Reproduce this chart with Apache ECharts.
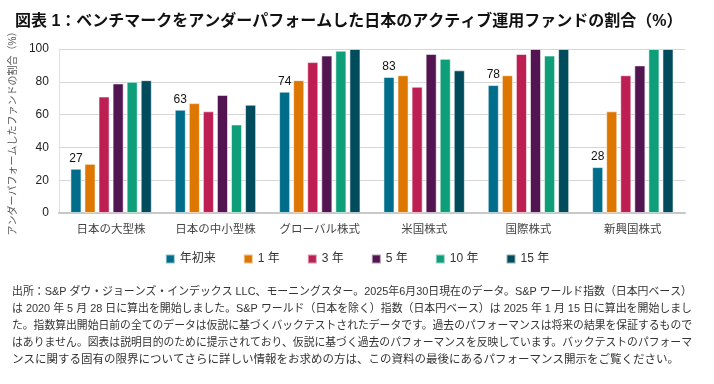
<!DOCTYPE html>
<html>
<head>
<meta charset="utf-8">
<script src="https://cdn.jsdelivr.net/npm/echarts@6/dist/echarts.min.js"></script>
<style>
html,body{margin:0;padding:0;background:#fff;}
#c{width:714px;height:384px;}
</style>
</head>
<body>
<div id="c"></div>
<script>
const categories = ['日本の大型株','日本の中小型株','グローバル株式','米国株式','国際株式','新興国株式'];
const seriesNames = ['年初来','1 年','3 年','5 年','10 年','15 年'];
const ytd   = [27, 63, 74, 83, 78, 28];
const y1    = [30, 67, 81, 84, 84, 62];
const y3    = [71, 62, 92, 77, 97, 84];
const y5    = [79, 72, 96, 97, 100, 90];
const y10   = [80, 54, 99, 94, 96, 100];
const y15   = [81, 66, 100, 87, 100, 100];
const yTicks = [0, 20, 40, 60, 80, 100];
const titleText = '図表 1：ベンチマークをアンダーパフォームした日本のアクティブ運用ファンドの割合（%）';
const yAxisName = 'アンダーパフォームしたファンドの割合（%）';
const noteLines = [
 '出所：S&P ダウ・ジョーンズ・インデックス LLC、モーニングスター。2025年6月30日現在のデータ。S&P ワールド指数（日本円ベース）',
 'は 2020 年 5 月 28 日に算出を開始しました。S&P ワールド（日本を除く）指数（日本円ベース）は 2025 年 1 月 15 日に算出を開始しまし',
 'た。指数算出開始日前の全てのデータは仮説に基づくバックテストされたデータです。過去のパフォーマンスは将来の結果を保証するもので',
 'はありません。図表は説明目的のために提示されており、仮説に基づく過去のパフォーマンスを反映しています。バックテストのパフォーマ',
 'ンスに関する固有の限界についてさらに詳しい情報をお求めの方は、この資料の最後にあるパフォーマンス開示をご覧ください。'
];

const colors = ['#006E8A','#DD7700','#BD1F52','#521552','#0E9F7A','#004B5C'];
const FONT = '"Liberation Sans", "Noto Sans CJK JP", sans-serif';
const allData = [ytd, y1, y3, y5, y10, y15];

const chart = echarts.init(document.getElementById('c'));

const cv = document.createElement('canvas').getContext('2d');
const noteSize = 11.5;
cv.font = noteSize + 'px ' + FONT;
const targetW = 680;

const graphics = [];
noteLines.forEach((t, i) => {
  const w = cv.measureText(t).width;
  const justify = i < noteLines.length - 1;
  const sx = justify ? targetW / w : 1;
  graphics.push({
    type: 'text', x: 12, y: 292 + i * 17, scaleX: sx,
    style: { text: t, font: noteSize + 'px ' + FONT, fill: '#333', verticalAlign: 'middle' }
  });
});

const series = seriesNames.map((n, i) => ({
  name: n, type: 'bar', data: allData[i],
  barGap: '27%', barCategoryGap: '22%',
  itemStyle: { color: colors[i], borderColor: 'rgba(255,255,255,0.55)', borderWidth: 1 },
  label: i === 0 ? { show: true, position: 'top', distance: 4, color: '#111', fontSize: 12, fontFamily: FONT } : { show: false }
}));

chart.setOption({
  animation: false,
  textStyle: { fontFamily: FONT },
  title: {
    text: titleText, left: 10, top: 9,
    textStyle: { fontSize: 16, fontWeight: 'bold', color: '#111', fontFamily: FONT }
  },
  grid: { left: 53, right: 29, top: 49, bottom: 171, containLabel: false },
  legend: {
    data: seriesNames, bottom: 114, left: 'center', itemWidth: 9, itemHeight: 9, itemGap: 27,
    icon: 'rect', textStyle: { fontSize: 12, color: '#333', fontFamily: FONT }
  },
  xAxis: {
    type: 'category', data: categories,
    axisLine: { lineStyle: { color: '#c8c8c8', width: 2 } },
    axisTick: { show: false },
    axisLabel: { fontSize: 11.5, color: '#444', margin: 11, interval: 0 }
  },
  yAxis: {
    type: 'value', min: 0, max: 100, interval: 20,
    name: yAxisName, nameLocation: 'middle', nameRotate: 90, nameGap: 36,
    nameTextStyle: { fontSize: 10, color: '#555', fontFamily: FONT },
    axisLine: { show: true, lineStyle: { color: '#e0e0e0', width: 1 } },
    axisTick: { show: false },
    axisLabel: { fontSize: 12, color: '#222', margin: 10, formatter: v => yTicks.includes(v) ? String(v) : '' },
    splitLine: { lineStyle: { color: '#d6d6d6', width: 1 } }
  },
  series: series,
  graphic: graphics
});
</script>
</body>
</html>
